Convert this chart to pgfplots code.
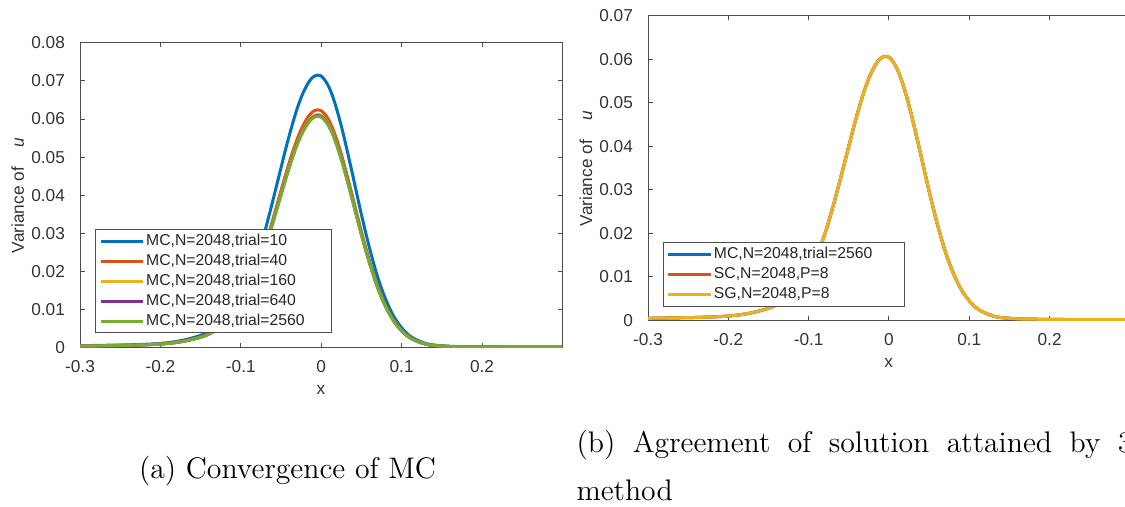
\documentclass[border=0pt]{standalone}
\usepackage{pgfplots}
\pgfplotsset{compat=1.18}
\usepackage{pgfplotstable}
\usepackage{fontspec}
\newfontfamily\arial{Liberation Sans}
\definecolor{mblue}{rgb}{0,0.447,0.741}
\definecolor{mred}{rgb}{0.85,0.325,0.098}
\definecolor{myellow}{rgb}{0.929,0.694,0.125}
\definecolor{mpurple}{rgb}{0.494,0.184,0.556}
\definecolor{mgreen}{rgb}{0.466,0.674,0.188}

\pgfplotstableread{
x       b        r        y        p        g
-0.30   0.00059  0.00051  0.00050  0.00050  0.00050
-0.27   0.00071  0.00062  0.00060  0.00060  0.00060
-0.24   0.00082  0.00072  0.00071  0.00070  0.00070
-0.21   0.00106  0.00093  0.00091  0.00090  0.00090
-0.19   0.00141  0.00123  0.00121  0.00120  0.00120
-0.17   0.00212  0.00185  0.00181  0.00180  0.00180
-0.15   0.00330  0.00288  0.00282  0.00281  0.00280
-0.14   0.00424  0.00370  0.00363  0.00361  0.00360
-0.13   0.00565  0.00493  0.00484  0.00481  0.00480
-0.12   0.00754  0.00658  0.00645  0.00642  0.00640
-0.11   0.01013  0.00884  0.00867  0.00863  0.00860
-0.10   0.01343  0.01172  0.01149  0.01143  0.01140
-0.09   0.01767  0.01542  0.01512  0.01505  0.01500
-0.08   0.02332  0.02035  0.01996  0.01986  0.01980
-0.07   0.03063  0.02673  0.02621  0.02608  0.02600
-0.06   0.03876  0.03382  0.03316  0.03300  0.03290
-0.05   0.04724  0.04122  0.04042  0.04022  0.04010
-0.045  0.05148  0.04492  0.04405  0.04383  0.04370
-0.04   0.05548  0.04842  0.04748  0.04724  0.04710
-0.035  0.05925  0.05171  0.05070  0.05045  0.05030
-0.03   0.06267  0.05469  0.05363  0.05336  0.05320
-0.025  0.06561  0.05726  0.05615  0.05587  0.05570
-0.02   0.06797  0.05932  0.05816  0.05787  0.05770
-0.015  0.06986  0.06096  0.05977  0.05948  0.05930
-0.01   0.07103  0.06199  0.06078  0.06048  0.06030
-0.005  0.07150  0.06240  0.06119  0.06088  0.06070
0.00    0.07127  0.06219  0.06098  0.06068  0.06050
0.005   0.07009  0.06117  0.05998  0.05968  0.05950
0.01    0.06821  0.05952  0.05836  0.05807  0.05790
0.015   0.06550  0.05716  0.05604  0.05577  0.05560
0.02    0.06208  0.05418  0.05312  0.05286  0.05270
0.025   0.05819  0.05078  0.04980  0.04955  0.04940
0.03    0.05383  0.04698  0.04607  0.04584  0.04570
0.035   0.04924  0.04297  0.04213  0.04193  0.04180
0.04    0.04453  0.03886  0.03810  0.03791  0.03780
0.05    0.03499  0.03053  0.02994  0.02979  0.02970
0.06    0.02627  0.02292  0.02248  0.02237  0.02230
0.07    0.01873  0.01635  0.01603  0.01595  0.01590
0.08    0.01284  0.01121  0.01099  0.01093  0.01090
0.09    0.00836  0.00730  0.00716  0.00712  0.00710
0.10    0.00530  0.00463  0.00454  0.00451  0.00450
0.11    0.00318  0.00278  0.00272  0.00271  0.00270
0.12    0.00200  0.00175  0.00171  0.00171  0.00170
0.13    0.00118  0.00103  0.00101  0.00100  0.00100
0.14    0.00078  0.00068  0.00067  0.00066  0.00066
0.16    0.00045  0.00039  0.00038  0.00038  0.00038
0.18    0.00035  0.00031  0.00030  0.00030  0.00030
0.20    0.00029  0.00026  0.00025  0.00025  0.00025
0.25    0.00024  0.00021  0.00020  0.00020  0.00020
0.2995  0.00024  0.00021  0.00020  0.00020  0.00020
}\datatable

\pgfplotsset{
  mstyle/.style={
    scale only axis, anchor=south west,
    font=\arial\fontsize{6.9}{8}\selectfont,
    /pgf/number format/assume math mode=true,
    scaled ticks=false,
    axis line style={black!70, line width=0.4pt},
    tick style={black!70, line width=0.4pt},
    major tick length=1.8pt,
    tick align=inside, xtick pos=both, ytick pos=both,
    ticklabel style={text=black!80},
    yticklabel style={xshift=-2.5pt},
    xticklabel style={yshift=-1.6pt},
    xmin=-0.3, xmax=0.2995, ymin=0,
    xtick={-0.3,-0.2,-0.1,0,0.1,0.2},
    xticklabels={-0.3,-0.2,-0.1,0,0.1,0.2},
    xlabel={x}, ylabel={Variance of\hspace{8pt}\textit{u}},
    every axis x label/.style={at={(axis description cs:0.5,0)}, anchor=center, yshift=-16.8pt, text=black!80},
    every axis y label/.style={at={(axis description cs:-0.129,0.5)}, rotate=90, anchor=center, text=black!80},
    legend cell align=left,
    legend image code/.code={\draw[##1] (0pt,0pt) -- (17pt,0pt);},
    legend style={anchor=north west, draw=black!70, line width=0.4pt, fill=white,
      font=\arial\fontsize{6.3}{7}\selectfont, text=black!85,
      inner xsep=1.5pt, inner ysep=1.2pt, row sep=1pt,
      nodes={inner sep=0.6pt, text height=4.5pt, text depth=1.3pt}},
  }
}

\begin{document}
\begin{tikzpicture}[x=0.4pt,y=0.4pt]
\path[use as bounding box] (0,0) rectangle (1125,506);
\clip (0,0) rectangle (1125,506);

\begin{axis}[mstyle, at={(32pt,63.2pt)}, width=192.8pt, height=122.1pt,
  ymax=0.08,
  ytick={0,0.01,0.02,0.03,0.04,0.05,0.06,0.07,0.08},
  yticklabels={0,0.01,0.02,0.03,0.04,0.05,0.06,0.07,0.08},
  legend style={at={(0.031,0.39)}}]
\addplot[mblue, line width=1.2pt, smooth] table[x=x,y=b]{\datatable};
\addlegendentry{\makebox[72pt][l]{MC,N=2048,trial=10}}
\addplot[mred, line width=1.2pt, smooth] table[x=x,y=r]{\datatable};
\addlegendentry{\makebox[72pt][l]{MC,N=2048,trial=40}}
\addplot[myellow, line width=1.2pt, smooth] table[x=x,y=y]{\datatable};
\addlegendentry{\makebox[72pt][l]{MC,N=2048,trial=160}}
\addplot[mpurple, line width=1.2pt, smooth] table[x=x,y=p]{\datatable};
\addlegendentry{\makebox[72pt][l]{MC,N=2048,trial=640}}
\addplot[mgreen, line width=1.2pt, smooth] table[x=x,y=g]{\datatable};
\addlegendentry{\makebox[72pt][l]{MC,N=2048,trial=2560}}
\end{axis}

\begin{axis}[mstyle, at={(259.2pt,74.2pt)}, width=192.6pt, height=121.8pt,
  ymax=0.07,
  ytick={0,0.01,0.02,0.03,0.04,0.05,0.06,0.07},
  yticklabels={0,0.01,0.02,0.03,0.04,0.05,0.06,0.07},
  legend style={at={(0.0305,0.257)}}]
\addplot[mblue, line width=1.2pt, smooth] table[x=x,y=g]{\datatable};
\addlegendentry{\makebox[74pt][l]{MC,N=2048,trial=2560}}
\addplot[mred, line width=1.2pt, smooth] table[x=x,y=g]{\datatable};
\addlegendentry{\makebox[74pt][l]{SC,N=2048,P=8}}
\addplot[myellow, line width=1.2pt, smooth] table[x=x,y=g]{\datatable};
\addlegendentry{\makebox[74pt][l]{SG,N=2048,P=8}}
\end{axis}

\node[anchor=base, font=\fontsize{11.9}{14}\selectfont, inner sep=0pt] at (287.5,28) {(a) Convergence of MC};
\node[anchor=base west, font=\fontsize{11.9}{14}\selectfont, inner sep=0pt] at (576,54)
  {(b)\hspace{7pt}Agreement\hspace{7pt}of\hspace{7pt}solution\hspace{7pt}attained\hspace{7pt}by\hspace{7pt}3};
\node[anchor=base west, font=\fontsize{11.9}{14}\selectfont, inner sep=0pt] at (576,6) {method};
\end{tikzpicture}
\end{document}
